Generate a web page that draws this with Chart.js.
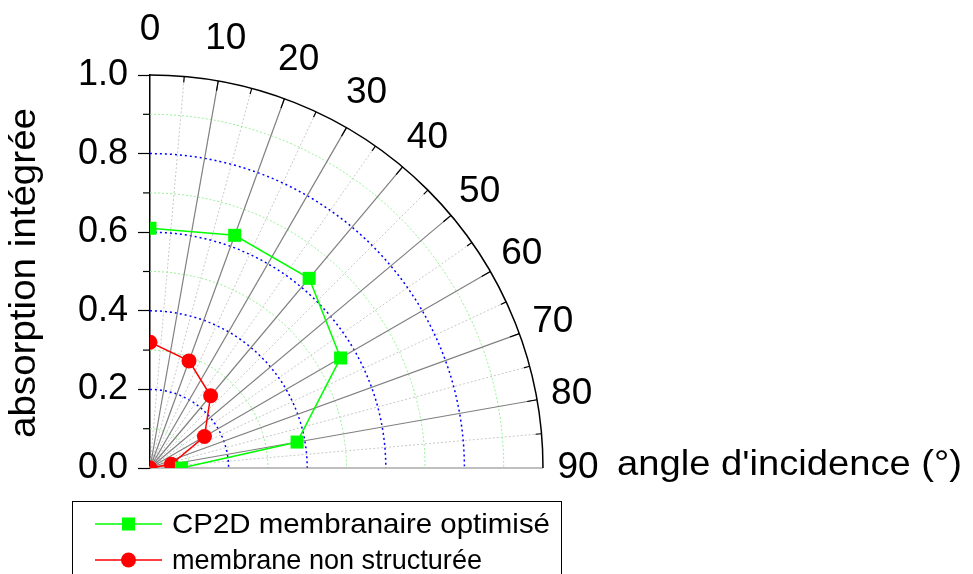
<!DOCTYPE html>
<html>
<head>
<meta charset="utf-8">
<script src="https://cdn.jsdelivr.net/npm/chart.js@4.4.1/dist/chart.umd.min.js"></script>
<style>
  html, body { margin: 0; padding: 0; background: #ffffff; }
  #wrap { width: 973px; height: 574px; }
</style>
</head>
<body>
<div id="wrap"><canvas id="polarChart" width="973" height="574"></canvas></div>
<script>
// Incidence angles (degrees, 0 = normal) and integrated absorption
const angles = [0, 20, 40, 60, 80, 90];
const optimise = [0.61, 0.63, 0.63, 0.56, 0.38, 0.08];
const nonStructure = [0.32, 0.29, 0.24, 0.16, 0.055, 0];
const seriesLabels = ["CP2D membranaire optimisé", "membrane non structurée"];
const angleTicks = [0, 10, 20, 30, 40, 50, 60, 70, 80, 90];
const radiusMajor = [0.2, 0.4, 0.6, 0.8];
const radiusMinor = [0.1, 0.3, 0.5, 0.7, 0.9];

const FONT = "'Liberation Sans', Arial, sans-serif";
const rad = (d) => (d * Math.PI) / 180;

// polar (angle from vertical, radius) -> cartesian point
function toXY(values) {
  return angles.map((a, i) => ({
    x: values[i] * Math.sin(rad(a)),
    y: values[i] * Math.cos(rad(a)),
  }));
}

// text drawn with a horizontal stretch so it spans a given width
function wideText(ctx, text, x, y, size, width) {
  ctx.font = size + "px " + FONT;
  const sx = width / ctx.measureText(text).width;
  ctx.save();
  ctx.translate(x, y);
  ctx.scale(sx, 1);
  ctx.textAlign = "left";
  ctx.fillText(text, 0, 0);
  ctx.restore();
}

// Polar grid, angle labels and legend drawn on the cartesian scales
const polarGrid = {
  id: "polarGrid",
  beforeDatasetsDraw(chart) {
    const { ctx, scales } = chart;
    const xs = scales.x, ys = scales.y;
    const cx = xs.getPixelForValue(0);
    const cy = ys.getPixelForValue(0);
    const R = xs.getPixelForValue(1) - cx;
    ctx.save();

    // minor radial lines every 5 degrees
    ctx.strokeStyle = "#c8c8c8";
    ctx.lineWidth = 1;
    ctx.setLineDash([2, 2]);
    for (let a = 5; a < 90; a += 10) {
      ctx.beginPath();
      ctx.moveTo(cx, cy);
      ctx.lineTo(cx + R * Math.sin(rad(a)), cy - R * Math.cos(rad(a)));
      ctx.stroke();
    }

    // green dotted circles
    ctx.strokeStyle = "#90f090";
    ctx.setLineDash([2, 2]);
    radiusMinor.forEach((r) => {
      ctx.beginPath();
      ctx.arc(cx, cy, r * R, -Math.PI / 2, 0);
      ctx.stroke();
    });

    // blue dotted circles
    ctx.strokeStyle = "#0000ff";
    ctx.lineWidth = 1.5;
    ctx.setLineDash([2, 3]);
    radiusMajor.forEach((r) => {
      ctx.beginPath();
      ctx.arc(cx, cy, r * R, -Math.PI / 2, 0);
      ctx.stroke();
    });

    // major radial lines
    ctx.setLineDash([]);
    ctx.strokeStyle = "#808080";
    ctx.lineWidth = 1.2;
    angleTicks.slice(1).forEach((a) => {
      ctx.beginPath();
      ctx.moveTo(cx, cy);
      ctx.lineTo(cx + R * Math.sin(rad(a)), cy - R * Math.cos(rad(a)));
      ctx.stroke();
    });

    // outer arc
    ctx.strokeStyle = "#000000";
    ctx.lineWidth = 1.5;
    ctx.beginPath();
    ctx.arc(cx, cy, R, -Math.PI / 2, 0);
    ctx.stroke();

    // ticks on the outer arc
    ctx.lineWidth = 1.2;
    for (let a = 5; a < 90; a += 5) {
      const len = a % 10 === 0 ? 10 : 6;
      const s = Math.sin(rad(a)), c = Math.cos(rad(a));
      ctx.beginPath();
      ctx.moveTo(cx + R * s, cy - R * c);
      ctx.lineTo(cx + (R - len) * s, cy - (R - len) * c);
      ctx.stroke();
    }

    // minor ticks on the radius axis
    radiusMinor.forEach((r) => {
      const py = ys.getPixelForValue(r);
      ctx.beginPath();
      ctx.moveTo(cx, py);
      ctx.lineTo(cx - 7, py);
      ctx.stroke();
    });

    // angle labels
    ctx.fillStyle = "#000000";
    ctx.font = "37px " + FONT;
    ctx.textAlign = "center";
    ctx.textBaseline = "middle";
    angleTicks.forEach((a) => {
      const s = Math.sin(rad(a)), c = Math.cos(rad(a));
      const d = R + 45 - 10 * s;
      ctx.fillText(String(a), cx + d * s, cy - d * c);
    });

    // axis titles
    ctx.textBaseline = "alphabetic";
    wideText(ctx, "angle d'incidence (°)", 617, 475, 35, 345);

    ctx.save();
    ctx.translate(35, 438);
    ctx.rotate(-Math.PI / 2);
    wideText(ctx, "absorption intégrée", 0, 0, 36, 330);
    ctx.restore();

    ctx.restore();
  },
  afterDraw(chart) {
    const { ctx } = chart;
    ctx.save();
    ctx.strokeStyle = "#000000";
    ctx.lineWidth = 1;
    ctx.strokeRect(72.5, 501.5, 489, 100);

    const rows = [
      { y: 524, color: "#00ff00", style: "rect", width: 378 },
      { y: 560, color: "#ff0000", style: "circle", width: 310 },
    ];
    ctx.textBaseline = "alphabetic";
    rows.forEach((row, i) => {
      ctx.strokeStyle = row.color;
      ctx.fillStyle = row.color;
      ctx.lineWidth = 1.5;
      ctx.beginPath();
      ctx.moveTo(95, row.y);
      ctx.lineTo(162, row.y);
      ctx.stroke();
      if (row.style === "rect") {
        ctx.fillRect(122, row.y - 6.5, 13, 13);
      } else {
        ctx.beginPath();
        ctx.arc(128.5, row.y, 7.5, 0, Math.PI * 2);
        ctx.fill();
      }
      ctx.fillStyle = "#000000";
      wideText(ctx, seriesLabels[i], 172, row.y + 9, 28, row.width);
    });
    ctx.restore();
  },
};

const ctx = document.getElementById("polarChart");

new Chart(ctx, {
  type: "scatter",
  data: {
    datasets: [
      {
        label: seriesLabels[0],
        data: toXY(optimise),
        showLine: true,
        borderColor: "#00ff00",
        backgroundColor: "#00ff00",
        borderWidth: 1.5,
        pointStyle: "rect",
        pointRadius: 9.2,
        pointBorderWidth: 0,
        clip: 0,
      },
      {
        label: seriesLabels[1],
        data: toXY(nonStructure),
        showLine: true,
        borderColor: "#ff0000",
        backgroundColor: "#ff0000",
        borderWidth: 1.5,
        pointStyle: "circle",
        pointRadius: 7.5,
        pointBorderWidth: 0,
        clip: 0,
      },
    ],
  },
  options: {
    responsive: false,
    animation: false,
    layout: {
      padding: { left: 0, top: 75, right: 430, bottom: 106 },
    },
    plugins: {
      legend: { display: false },
      tooltip: { enabled: false },
    },
    scales: {
      x: {
        type: "linear",
        min: 0,
        max: 1,
        display: false,
      },
      y: {
        type: "linear",
        min: 0,
        max: 1,
        afterFit: function (scale) {
          scale.width = 150;
        },
        grid: {
          drawOnChartArea: false,
          drawTicks: true,
          tickLength: 12,
          tickColor: "#000000",
          tickWidth: 1.2,
        },
        border: { display: true, color: "#000000", width: 1.5 },
        ticks: {
          stepSize: 0.2,
          padding: 10,
          color: "#000000",
          font: { size: 36, family: FONT },
          callback: function (value) {
            return value.toFixed(1);
          },
        },
        title: { display: false },
      },
    },
  },
  plugins: [polarGrid],
});
</script>
</body>
</html>
